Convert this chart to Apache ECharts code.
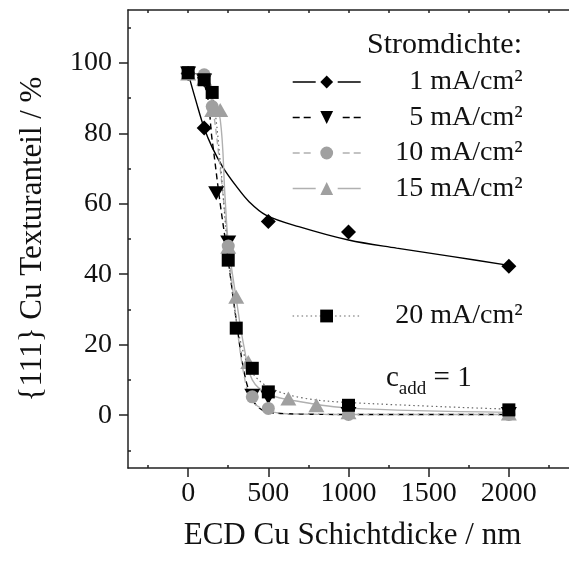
<!DOCTYPE html>
<html><head><meta charset="utf-8">
<script src="https://cdn.jsdelivr.net/npm/echarts@6/dist/echarts.min.js"></script>
<style>html,body{margin:0;padding:0;background:#fff}#c{width:569px;height:568px}</style>
</head><body><div id="c"></div>
<script>
const FONT = 'Liberation Serif';
const seriesNames = ['1 mA/cm²', '5 mA/cm²', '10 mA/cm²', '15 mA/cm²', '20 mA/cm²'];
const legendTitle = 'Stromdichte:';
const xAxisTitle = 'ECD Cu Schichtdicke / nm';
const yAxisTitle = '{111} Cu Texturanteil / %';
const xTickValues = [0, 500, 1000, 1500, 2000];
const xMinorValues = [-250, 250, 750, 1250, 1750, 2250];
const xTopTickValues = [-250, 0, 250, 500, 750, 1000, 1250, 1500, 1750, 2000, 2250];
const yTickValues = [0, 20, 40, 60, 80, 100];
const yMinorValues = [-10, 10, 30, 50, 70, 90, 110];

// measured points
const pts1 = [[0, 97], [100, 81.5], [500, 55], [1000, 52], [2000, 42.3]];
const pts5 = [[0, 97], [100, 95], [175, 63], [250, 49], [400, 5.5], [500, 5], [1000, 0.3], [2000, 0.3]];
const pts10 = [[0, 97], [100, 96.6], [150, 87.6], [250, 48], [400, 5.2], [500, 1.9], [1000, 0.2], [2000, 0.2]];
const pts15 = [[0, 97], [100, 95.5], [150, 86.6], [200, 86.6], [250, 47.8], [300, 33.6], [375, 15.1], [625, 4.7], [800, 2.8], [1000, 0.8], [2000, 0.5]];
const pts20 = [[0, 97.2], [100, 95.2], [150, 91.6], [250, 44], [300, 24.7], [400, 13.3], [500, 6.6], [1000, 2.8], [2000, 1.5]];

// fitted curves
const fit1 = [[0, 97], [50, 89], [100, 81.5], [150, 76], [215, 70.5], [300, 65], [380, 60.6], [485, 56.8], [690, 53.5], [1000, 49.7], [1300, 47.4], [1650, 45], [2000, 42.5]];
const fit5 = [[0, 97], [100, 94], [150, 78], [200, 60], [250, 44], [300, 27], [350, 12], [400, 4.5], [450, 1.8], [500, 0.8], [700, 0.3], [1000, 0.2], [2000, 0.2]];
const fit10 = [[0, 97], [100, 96], [150, 88], [200, 70], [250, 48], [300, 27], [350, 11], [400, 4], [500, 1.2], [700, 0.3], [1000, 0.2], [2000, 0.2]];
const fit15 = [[0, 97], [100, 96], [150, 90], [200, 84], [230, 62], [250, 49], [300, 33], [350, 19], [400, 10], [500, 6], [700, 3.8], [1000, 2], [2000, 0.8]];
const fit20 = [[0, 97], [100, 95.5], [150, 91], [200, 72], [250, 45], [300, 27], [350, 17], [400, 12], [500, 8], [700, 5], [1000, 3.6], [2000, 1.7]];

const BLACK = '#000000';
const GREY = '#a0a0a0';
const GREYLINE = '#b0b0b0';
const DOWN_TRI = 'path://M0,0 L10,0 L5,9 Z';

const styles = [
  { pts: pts1, fit: fit1, symbol: 'diamond', size: 15, color: BLACK, line: { color: BLACK, width: 1.4, type: 'solid' }, legendDash: [23, 22] },
  { pts: pts5, fit: fit5, symbol: DOWN_TRI, size: [16, 14], color: BLACK, line: { color: BLACK, width: 1.4, type: [6, 4] }, legendDash: [7, 4, 7, 32] },
  { pts: pts10, fit: fit10, symbol: 'circle', size: 13, color: GREY, line: { color: GREYLINE, width: 1.4, type: [6, 4] }, legendDash: [7, 4, 7, 32] },
  { pts: pts15, fit: fit15, symbol: 'triangle', size: [16, 14], color: GREY, line: { color: GREYLINE, width: 1.4, type: 'solid' }, legendDash: [23, 22] },
  { pts: pts20, fit: fit20, symbol: 'rect', size: 13, color: BLACK, line: { color: '#666', width: 1.2, type: [1.5, 3] }, legendDash: [1.5, 3, 1.5, 3, 1.5, 3, 1.5, 3, 1.5, 3, 1.5, 3, 1.5, 14] }
];

const series = [];
styles.forEach((s, i) => {
  series.push({
    name: 'fit' + i, type: 'line', data: s.fit, smooth: 0.35, showSymbol: false, symbol: 'none',
    lineStyle: s.line, z: 2, silent: true
  });
});
styles.forEach((s, i) => {
  series.push({
    name: seriesNames[i], type: 'line', data: s.pts, symbol: s.symbol, symbolSize: s.size,
    showAllSymbol: true, itemStyle: { color: s.color, opacity: 1 },
    lineStyle: Object.assign({}, s.line, { opacity: 0 }), z: 3
  });
});

const legendText = {
  formatter: n => '{a|' + n + '}',
  textStyle: { rich: { a: { width: 157, align: 'right', fontSize: 28, fontFamily: FONT, color: '#111', lineHeight: 30 } } }
};
function legendItem(i) {
  return { name: seriesNames[i], lineStyle: Object.assign({}, styles[i].line, { opacity: 1, type: styles[i].legendDash }), itemStyle: { color: styles[i].color } };
}

const chart = echarts.init(document.getElementById('c'), null, { renderer: 'canvas' });
const axisLineStyle = { color: '#222', width: 1.5 };
const labelFmt = v => String(v);
chart.setOption({
  animation: false,
  backgroundColor: '#fff',
  textStyle: { fontFamily: FONT },
  grid: { left: 128, top: 10, width: 443, height: 458, containLabel: false },
  xAxis: [
    {
      type: 'value', min: -375, max: 2375, position: 'bottom',
      axisLine: { show: true, onZero: false, lineStyle: axisLineStyle },
      axisTick: { show: true, inside: false, length: 9, customValues: xTickValues, lineStyle: axisLineStyle },
      axisLabel: { customValues: xTickValues, formatter: labelFmt, fontSize: 28, fontFamily: FONT, color: '#111', margin: 12 },
      splitLine: { show: false },
      name: xAxisTitle, nameLocation: 'middle', nameGap: 52,
      nameTextStyle: { fontSize: 31, fontFamily: FONT, color: '#111', padding: [0, 0, 0, 8] }
    },
    {
      type: 'value', min: -375, max: 2375, position: 'bottom',
      axisLine: { show: false, onZero: false },
      axisTick: { show: true, inside: true, length: 3, customValues: xMinorValues, lineStyle: axisLineStyle },
      axisLabel: { show: false }, splitLine: { show: false }
    },
    {
      type: 'value', min: -375, max: 2375, position: 'top',
      axisLine: { show: true, onZero: false, lineStyle: axisLineStyle },
      axisTick: { show: true, inside: true, length: 3, customValues: xTopTickValues, lineStyle: axisLineStyle },
      axisLabel: { show: false }, splitLine: { show: false }
    }
  ],
  yAxis: [
    {
      type: 'value', min: -15, max: 115, position: 'left',
      axisLine: { show: true, onZero: false, lineStyle: axisLineStyle },
      axisTick: { show: true, inside: false, length: 9, customValues: yTickValues, lineStyle: axisLineStyle },
      axisLabel: { customValues: yTickValues, formatter: labelFmt, fontSize: 28, fontFamily: FONT, color: '#111', margin: 16 },
      splitLine: { show: false },
      name: yAxisTitle, nameLocation: 'middle', nameGap: 80,
      nameTextStyle: { fontSize: 31, fontFamily: FONT, color: '#111' }
    },
    {
      type: 'value', min: -15, max: 115, position: 'left',
      axisLine: { show: false, onZero: false },
      axisTick: { show: true, inside: true, length: 3, customValues: yMinorValues, lineStyle: axisLineStyle },
      axisLabel: { show: false }, splitLine: { show: false }
    }
  ],
  legend: [
    Object.assign({
      orient: 'vertical', left: 287, top: 63, itemWidth: 68, itemHeight: 16, itemGap: 7.5,
      data: [0, 1, 2, 3].map(legendItem), selectedMode: false
    }, legendText),
    Object.assign({
      orient: 'vertical', left: 287, top: 297, itemWidth: 68, itemHeight: 16, itemGap: 7.5,
      data: [legendItem(4)], selectedMode: false
    }, legendText)
  ],
  graphic: [
    { type: 'text', right: 47, top: 30, style: { text: legendTitle, font: '30px "Liberation Serif"', fill: '#111' } },
    { type: 'text', left: 386, top: 364, style: {
        text: '{c|c}{s|add}{c| = 1}',
        rich: { c: { fontSize: 29, fontFamily: FONT, fill: '#111', verticalAlign: 'top' }, s: { fontSize: 19, fontFamily: FONT, fill: '#111', padding: [16, 0, 0, 0] } }
      } }
  ],
  series: series
});
</script></body></html>
